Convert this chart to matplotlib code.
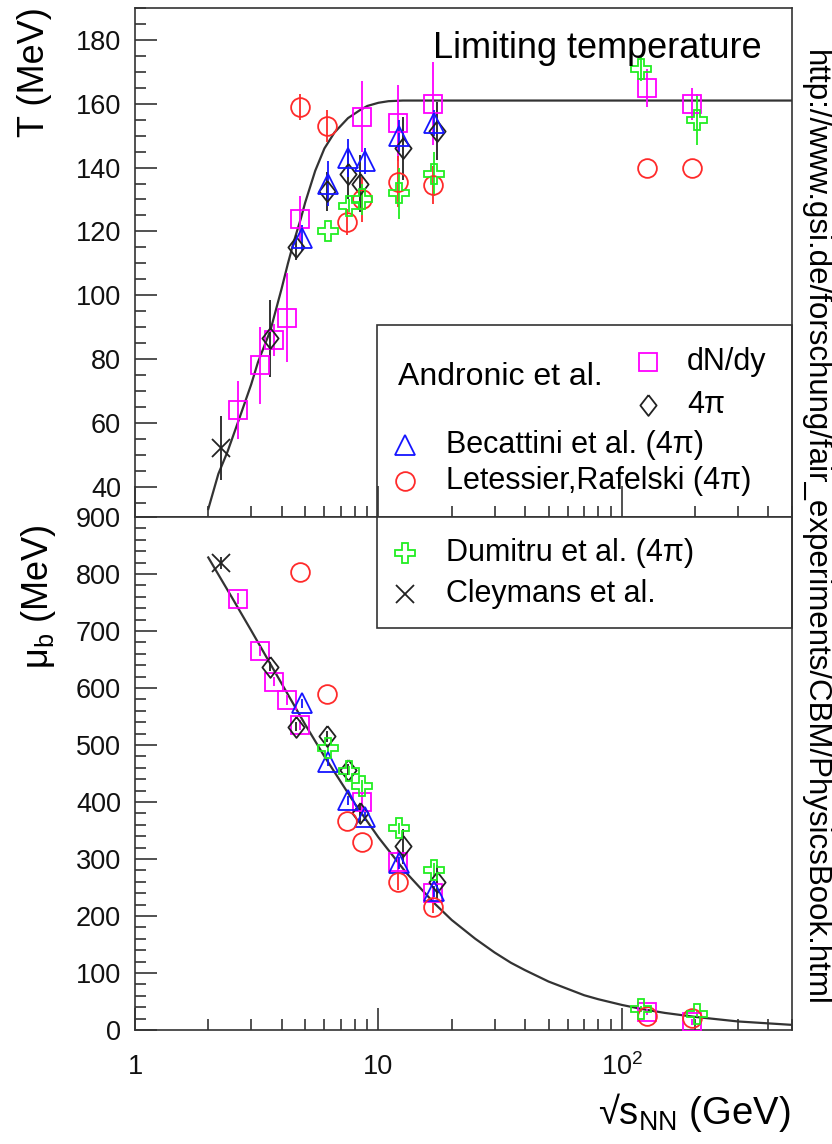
import matplotlib
matplotlib.use('Agg')
import matplotlib.pyplot as plt
from matplotlib.patches import Rectangle
from matplotlib.ticker import LogLocator, MultipleLocator, FuncFormatter, NullFormatter

plt.rcParams['font.family'] = ['Liberation Sans', 'DejaVu Sans']
plt.rcParams['mathtext.fontset'] = 'custom'
plt.rcParams['mathtext.rm'] = 'Liberation Sans'
plt.rcParams['mathtext.it'] = 'Liberation Sans:italic'

# Andronic et al., fits to dN/dy (open squares)
sq_x = [2.65, 3.27, 3.72, 4.22, 4.78, 8.57, 12.0, 16.8, 127, 194]
sq_T = [64, 78, 86, 93, 124, 156, 154, 160, 165, 160]
sq_T_err = [9, 12, 5, 14, 7, 11, 12, 13, 6, 5]
sq_mu = [757, 665, 611, 579, 535, 400, 295, 240, 32, 14]
sq_mu_err = [10, 8, 8, 8, 8, 15, 20, 12, 5, 5]

# Andronic et al., 4pi yields (open diamonds)
di_x = [3.6, 4.57, 6.15, 7.5, 8.4, 12.6, 17.4]
di_T = [86.5, 115, 132.5, 138, 135, 146, 151.5]
di_T_err = [12, 4, 6, 8, 9, 10, 9]
di_mu = [637, 532, 515, 457, 380, 322, 260]
di_mu_err = [8, 8, 10, 10, 15, 30, 30]

# Becattini et al. (open triangles)
tr_x = [4.85, 6.2, 7.5, 8.8, 12.1, 16.9]
tr_T = [118, 135, 143, 142, 150, 154]
tr_T_err = [4, 7, 6, 4, 5, 4]
tr_mu = [573, 471, 403, 374, 293, 243]
tr_mu_err = [8, 8, 8, 8, 10, 10]

# Letessier, Rafelski (open circles)
ci_x = [4.75, 6.14, 7.45, 8.57, 12.0, 16.7, 127, 194]
ci_T = [159, 153, 123, 130, 135.5, 134.5, 140, 140]
ci_T_err = [4, 5, 4, 7, 8, 6, 0, 0]
ci_mu = [804, 590, 366, 330, 260, 216, 25, 21]
ci_mu_err = [0, 0, 0, 0, 15, 10, 0, 0]

# Dumitru et al. (open crosses)
pl_x = [6.2, 7.6, 8.6, 12.1, 16.9, 120, 203]
pl_T = [120, 128, 130, 132, 138, 171, 155]
pl_T_err = [0, 2, 5, 8, 7, 4, 8]
pl_mu = [494, 455, 428, 354, 281, 37, 28]
pl_mu_err = [8, 8, 10, 10, 12, 5, 5]

# Cleymans et al.
cl_x = [2.26]
cl_T = [52]
cl_T_err = [10]
cl_mu = [819]
cl_mu_err = [10]

# parametrisation curves
T_curve_x = [2.0, 2.2, 2.4, 2.7, 3.0, 3.2, 3.6, 4.0, 4.25, 4.5, 4.8, 5.0,
             5.5, 6.0, 6.6, 7.5, 8.4, 9.0, 10, 11, 12.6, 20, 50, 500]
T_curve = [33, 44, 51, 62, 72, 79, 89, 102, 110, 117, 124, 129,
           139, 146, 151, 155.5, 158, 159.3, 160.3, 160.8, 161, 161, 161, 161]
mu_curve_x = [2.0, 2.5, 3.0, 4.0, 5.0, 6.0, 8.0, 10, 13, 17, 20, 25, 30,
              35, 40, 50, 60, 70, 80, 100, 120, 150, 200, 300, 500]
mu_curve = [829, 759, 701, 608, 536, 480, 397, 338, 276, 222, 193, 160, 136,
            118, 105, 85, 72, 61, 54, 44, 37, 30, 23, 15, 9]

magenta = '#ff00ff'
blue = '#1515ff'
red = '#ff2a2a'
green = '#22ee22'
black = '#222222'
frame = '#333333'

# open diamond a little wider than matplotlib's thin diamond
diamond = [(0, 1), (0.78, 0), (0, -1), (-0.78, 0), (0, 1)]
di_ms = 15

series = [
    (sq_x, sq_T, sq_T_err, sq_mu, sq_mu_err, 's', magenta, 13.5),
    (di_x, di_T, di_T_err, di_mu, di_mu_err, diamond, black, di_ms),
    (tr_x, tr_T, tr_T_err, tr_mu, tr_mu_err, '^', blue, 14),
    (ci_x, ci_T, ci_T_err, ci_mu, ci_mu_err, 'o', red, 13.5),
    (pl_x, pl_T, pl_T_err, pl_mu, pl_mu_err, 'P', green, 14),
    (cl_x, cl_T, cl_T_err, cl_mu, cl_mu_err, 'x', black, 13),
]

W, H = 832, 1144
fig = plt.figure(figsize=(W / 100, H / 100), dpi=100)

left, right = 135, 792
top, mid, bottom = 8, 517, 1030
ax_T = fig.add_axes([left / W, 1 - mid / H, (right - left) / W, (mid - top) / H])
ax_mu = fig.add_axes([left / W, 1 - bottom / H, (right - left) / W, (bottom - mid) / H])


def draw_points(ax, x, y, err, marker, color, ms):
    ax.errorbar(x, y, yerr=err, fmt='none', ecolor=color, elinewidth=1.3,
                capsize=0, zorder=3)
    ax.plot(x, y, ls='none', marker=marker, ms=ms, mfc='none', mec=color,
            mew=1.3, zorder=4)


for x, t, te, m, me, mk, col, ms in series:
    draw_points(ax_T, x, t, te, mk, col, ms)
    draw_points(ax_mu, x, m, me, mk, col, ms)

ax_T.plot(T_curve_x, T_curve, color=frame, lw=1.6, zorder=2)
ax_mu.plot(mu_curve_x, mu_curve, color=frame, lw=1.6, zorder=2)

for ax in (ax_T, ax_mu):
    ax.set_xscale('log')
    ax.set_xlim(1, 500)
    ax.xaxis.set_major_locator(LogLocator(base=10, numticks=10))
    ax.xaxis.set_minor_locator(LogLocator(base=10, subs=range(2, 10), numticks=10))
    ax.xaxis.set_minor_formatter(NullFormatter())
    for s in ax.spines.values():
        s.set_color(frame)
        s.set_linewidth(1.2)
    ax.tick_params(which='both', direction='in', top=False, right=False,
                   color=frame, width=1.2, labelsize=19.5, labelcolor='#111111')
    ax.tick_params(axis='y', which='major', length=16, pad=10)
    ax.tick_params(axis='y', which='minor', length=8)
    ax.tick_params(axis='x', which='minor', length=8)

ax_T.set_ylim(30.5, 190)
ax_T.yaxis.set_major_locator(MultipleLocator(20))
ax_T.yaxis.set_minor_locator(MultipleLocator(5))
ax_T.tick_params(axis='x', which='major', length=22, labelbottom=False)

ax_mu.set_ylim(0, 900)
ax_mu.yaxis.set_major_locator(MultipleLocator(100))
ax_mu.yaxis.set_minor_locator(MultipleLocator(20))
ax_mu.tick_params(axis='x', which='major', length=16, pad=17)
x_labels = {1: '1', 10: '10', 100: r'$\mathregular{10^{2}}$'}
ax_mu.xaxis.set_major_formatter(FuncFormatter(lambda v, p: x_labels.get(int(round(v)), '')))

# overlay in pixel units for legend and labels
ov = fig.add_axes([0, 0, 1, 1], zorder=5)
ov.set_xlim(0, W)
ov.set_ylim(H, 0)
ov.axis('off')
ov.patch.set_alpha(0)

ov.add_patch(Rectangle((377, 325), right - 377, 628 - 325, fill=False,
                       ec=frame, lw=1.2))

leg_size = 22
ov.text(398, 377, 'Andronic et al.', fontsize=23, va='center', ha='left')
ov.plot([648], [362], ls='none', marker='s', ms=13.5, mfc='none', mec=magenta, mew=1.3)
ov.text(687, 362, 'dN/dy', fontsize=leg_size, va='center', ha='left')
ov.plot([648], [405], ls='none', marker=diamond, ms=di_ms, mfc='none', mec=black, mew=1.3)
ov.text(687, 405, '4π', fontsize=leg_size, va='center', ha='left')

rows = [
    ('^', blue, 14, 445, 'Becattini et al. (4π)'),
    ('o', red, 13.5, 481, 'Letessier,Rafelski (4π)'),
    ('P', green, 14, 553, 'Dumitru et al. (4π)'),
    ('x', black, 13, 594, 'Cleymans et al.'),
]
for mk, col, ms, yy, lab in rows:
    ov.plot([405], [yy], ls='none', marker=mk, ms=ms, mfc='none', mec=col, mew=1.3)
    ov.text(446, yy, lab, fontsize=leg_size, va='center', ha='left')

ov.text(597, 48, 'Limiting temperature', fontsize=26, ha='center', va='center')

ov.text(35, 72, 'T (MeV)', fontsize=26, rotation=90, ha='center', va='center')
ov.text(38, 597, r'μ$_{\mathregular{b}}$ (MeV)', fontsize=26, rotation=90,
        ha='center', va='center')
ov.text(790, 1113, r'√s$_{\mathregular{NN}}$ (GeV)', fontsize=27.5, ha='right',
        va='center')
ov.text(815, 528, 'http://www.gsi.de/forschung/fair_experiments/CBM/PhysicsBook.html',
        fontsize=22.5, rotation=-90, ha='center', va='center')

fig.savefig('out.png', dpi=100)
